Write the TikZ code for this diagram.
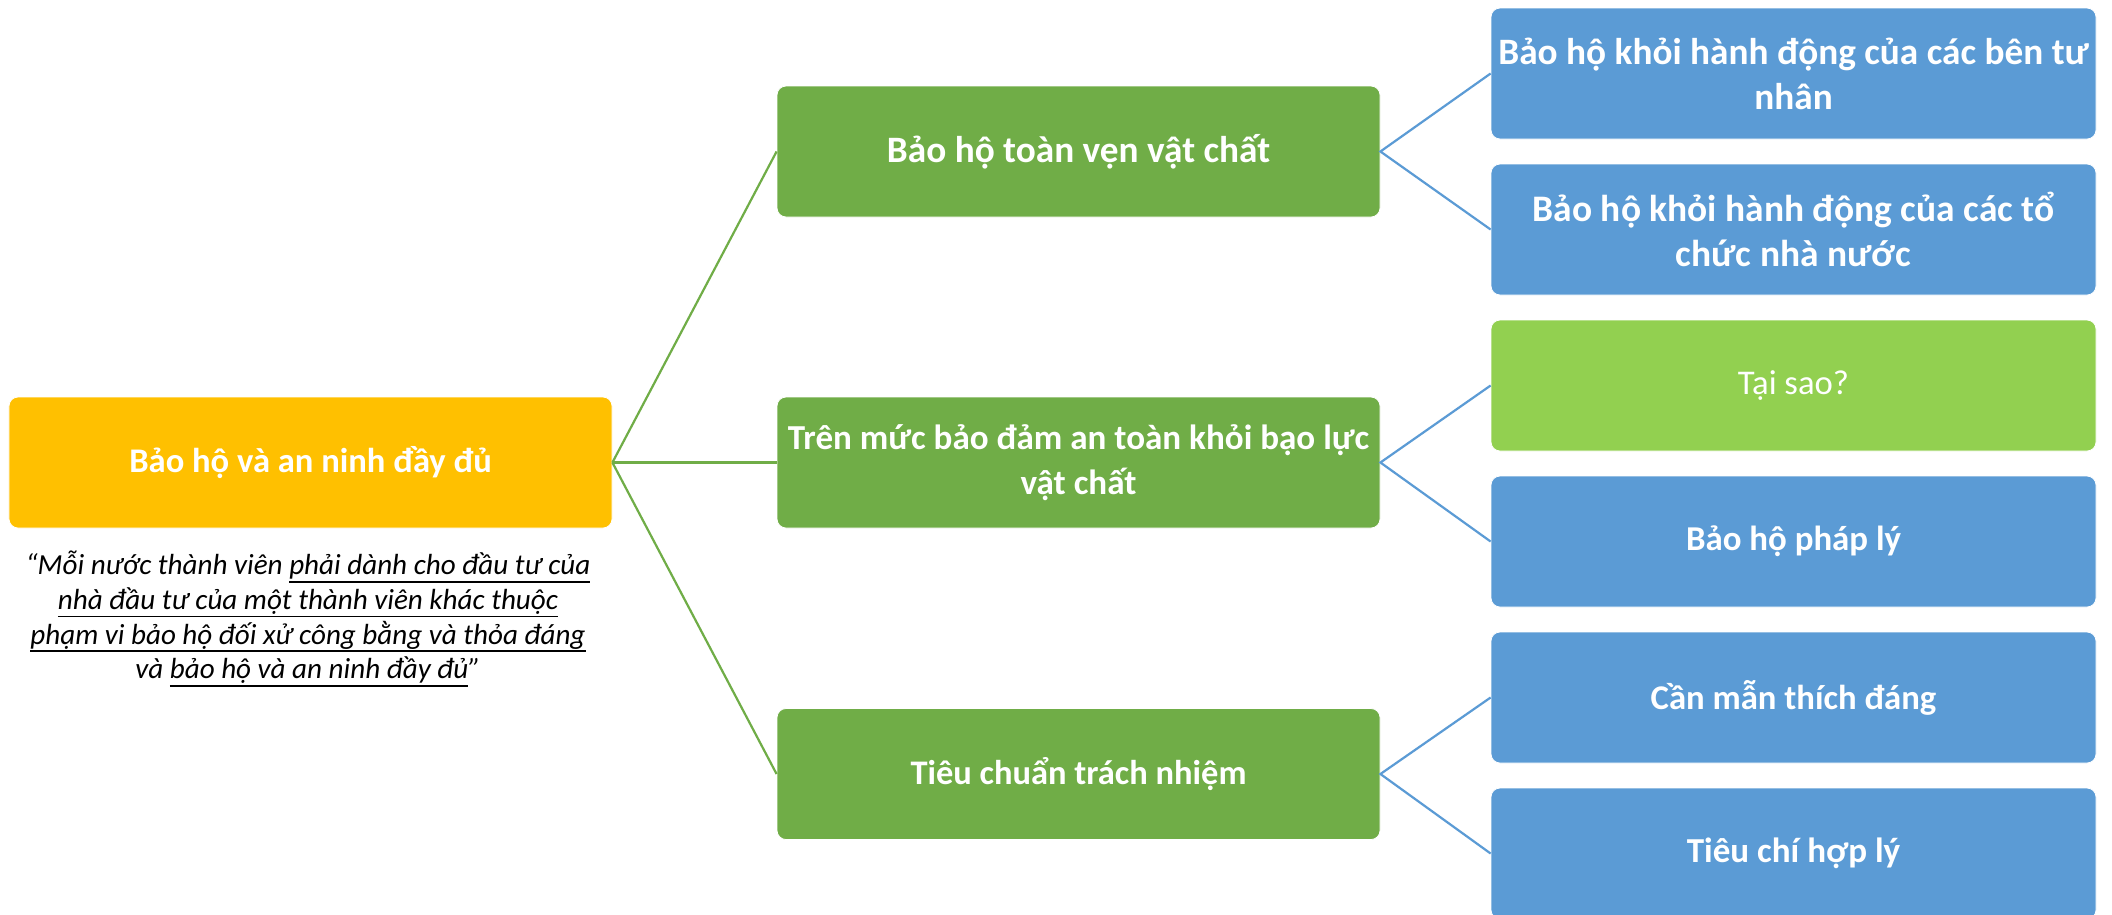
\documentclass[tikz,border=0pt]{standalone}
\usepackage{fontspec}
\setmainfont{Carlito}
\definecolor{cyellow}{HTML}{FFC000}
\definecolor{cgreen}{HTML}{70AD47}
\definecolor{cblue}{HTML}{5B9BD5}
\definecolor{clight}{HTML}{92D050}
\newsavebox\ulbox
\newcommand\myul[1]{\sbox\ulbox{#1}\rlap{\rule[-3.9pt]{\wd\ulbox}{0.85pt}}\usebox\ulbox}
\newcommand\fs[1]{\fontsize{#1}{22.5}\selectfont}
\begin{document}
\begin{tikzpicture}[x=0.5bp,y=-0.5bp,
  box/.style={rectangle, rounded corners=4.5bp, draw=white, line width=0.4bp,
    minimum width=301.5bp, minimum height=65.5bp, inner sep=0pt,
    text=white, align=center},
  sz/.style={font=\bfseries\fs{#1}},
  yellowbox/.style={box, fill=cyellow},
  greenbox/.style={box, fill=cgreen},
  bluebox/.style={box, fill=cblue, minimum width=302.5bp},
  lightbox/.style={box, fill=clight, minimum width=302.5bp},
  gline/.style={draw=cgreen, line width=1.1bp},
  bline/.style={draw=cblue, line width=1.1bp},
  quote/.style={align=center, inner sep=0pt, font=\fontsize{14.6}{17.4}\selectfont\itshape}
]
\useasboundingbox (0,0) rectangle (2112,914);
\fill[white] (0,0) rectangle (2112,914);

\node[yellowbox, sz=17.35] (root) at (310.5,462.5) {Bảo hộ và an ninh đầy đủ};
\node[quote] (q) at (308,619) {“Mỗi nước thành viên \myul{phải dành cho đầu tư của}\\
\myul{nhà đầu tư của một thành viên khác thuộc}\\
\myul{phạm vi bảo hộ đối xử công bằng và thỏa đáng}\\
và \myul{bảo hộ và an ninh đầy đủ}”};

\node[greenbox, sz=18.7] (g1) at (1078.5,151.5) {Bảo hộ toàn vẹn vật chất};
\node[greenbox, sz=17.6] (g2) at (1078.5,462.5) {Trên mức bảo đảm an toàn khỏi bạo lực\\vật chất};
\node[greenbox, sz=17.3] (g3) at (1078.5,774) {Tiêu chuẩn trách nhiệm};

\node[bluebox, sz=18.7] (r1) at (1793.5,73.5) {Bảo hộ khỏi hành động của các bên tư\\nhân};
\node[bluebox, sz=18.8] (r2) at (1793.5,229.5) {Bảo hộ khỏi hành động của các tổ\\chức nhà nước};
\node[lightbox, font=\fs{17.4}] (r3) at (1793.5,385.5) {Tại sao?};
\node[bluebox, sz=17.5] (r4) at (1793.5,541.5) {Bảo hộ pháp lý};
\node[bluebox, sz=17.4] (r5) at (1793.5,697.5) {Cần mẫn thích đáng};
\node[bluebox, sz=17.6] (r6) at (1793.5,853.5) {Tiêu chí hợp lý};

\draw[gline] (root.east) -- (g1.west);
\draw[gline] (root.east) -- (g2.west);
\draw[gline] (root.east) -- (g3.west);
\draw[bline] (r1.west) -- (g1.east) -- (r2.west);
\draw[bline] (r3.west) -- (g2.east) -- (r4.west);
\draw[bline] (r5.west) -- (g3.east) -- (r6.west);
\end{tikzpicture}
\end{document}
